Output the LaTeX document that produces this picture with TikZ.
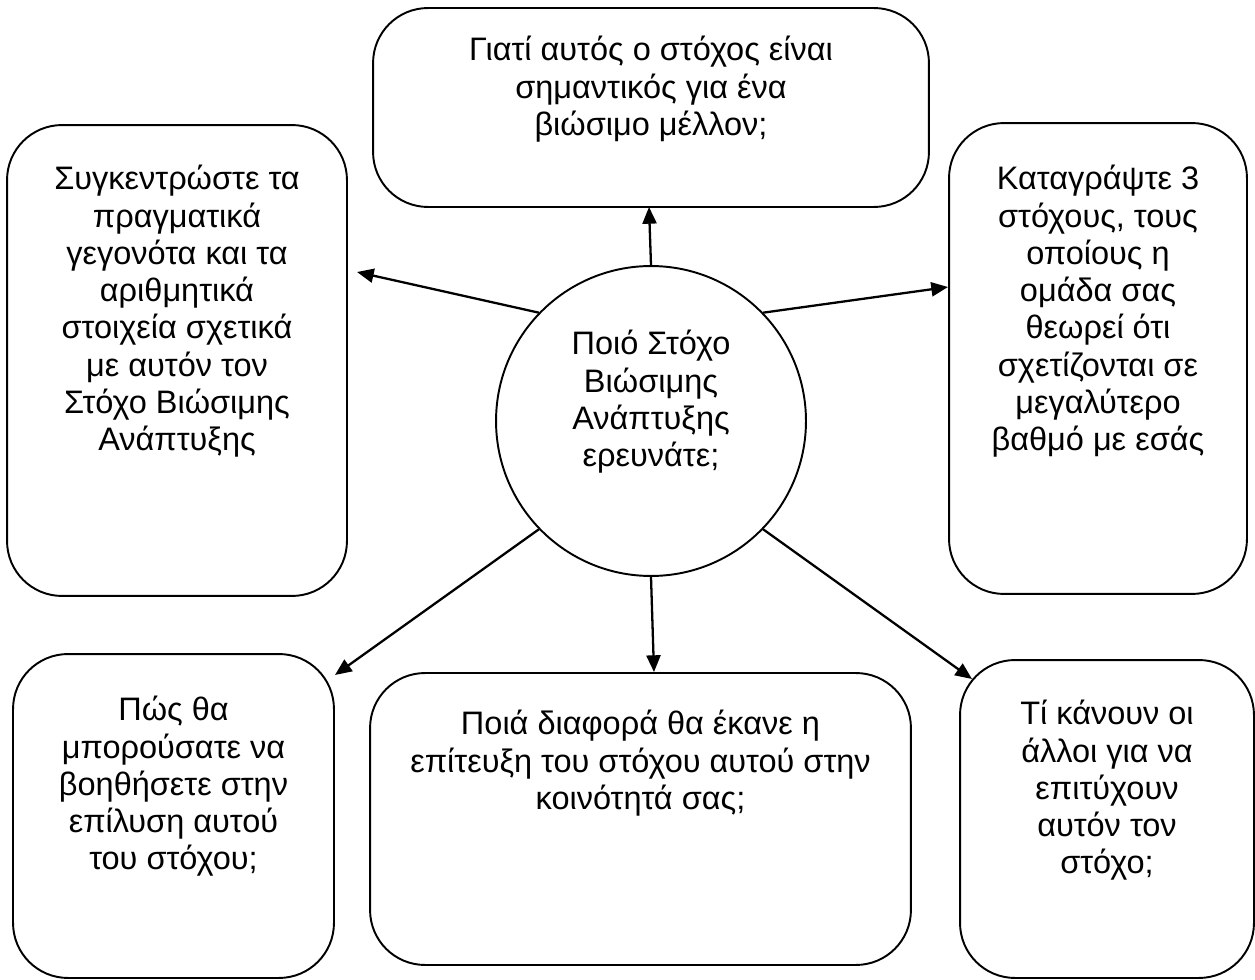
\documentclass[tikz,border=0pt]{standalone}
\usepackage{fontspec}
\setmainfont{Liberation Sans}
\usetikzlibrary{arrows.meta,positioning}

\begin{document}
\begin{tikzpicture}[x=0.02cm, y=-0.02cm,
		box/.style={draw, line width=1.1pt, rounded corners=1.1cm, inner sep=0pt, outer sep=0pt},
		txt/.style={align=center, inner sep=0pt, font=\fontsize{18.5}{21.2}\selectfont},
		arr/.style={line width=1.3pt, -{Triangle[length=9.5pt, width=8pt]}}]
		\useasboundingbox (0, 0) rectangle (1255, 980);
		
		\node[draw, circle, line width=1.1pt, minimum size=6.2cm, inner sep=0pt] (goal) at (651, 421) {};
		\node[txt, below=1.3cm of goal.north] (goaltxt) {Ποιό Στόχο\\Βιώσιμης\\Ανάπτυξης\\ερευνάτε;};
		
		\node[box, minimum width=11.12cm, minimum height=3.98cm] (why) at (651, 107.5) {};
		\node[box, minimum width=6.8cm, minimum height=9.42cm] (facts) at (177, 360.5) {};
		\node[box, minimum width=5.96cm, minimum height=9.42cm] (list) at (1098, 358.5) {};
		\node[box, minimum width=6.42cm, minimum height=6.48cm] (help) at (173.5, 816) {};
		\node[box, minimum width=10.82cm, minimum height=5.84cm] (diff) at (640.5, 819) {};
		\node[box, minimum width=5.88cm, minimum height=6.36cm] (others) at (1107, 819) {};
		
		\node[txt, below=0.56cm of why.north] (whytxt) {Γιατί αυτός ο στόχος είναι\\σημαντικός για ένα\\βιώσιμο μέλλον;};
		\node[txt, below=0.8cm of facts.north] (factstxt) {Συγκεντρώστε τα\\πραγματικά\\γεγονότα και τα\\αριθμητικά\\στοιχεία σχετικά\\με αυτόν τον\\Στόχο Βιώσιμης\\Ανάπτυξης};
		\node[txt, below=0.84cm of list.north] (listtxt) {Καταγράψτε 3\\στόχους, τους\\οποίους η\\ομάδα σας\\θεωρεί ότι\\σχετίζονται σε\\μεγαλύτερο\\βαθμό με εσάς};
		\node[txt, below=0.84cm of help.north] (helptxt) {Πώς θα\\μπορούσατε να\\βοηθήσετε στην\\επίλυση αυτού\\του στόχου;};
		\node[txt, below=0.74cm of diff.north] (difftxt) {Ποιά διαφορά θα έκανε η\\επίτευξη του στόχου αυτού στην\\κοινότητά σας;};
		\node[txt, below=0.8cm of others.north] (otherstxt) {Τί κάνουν οι\\άλλοι για να\\επιτύχουν\\αυτόν τον\\στόχο;};
		
		\coordinate (tipwhy) at (649, 207);
		\coordinate (tipfacts) at (357, 272);
		\coordinate (tiplist) at (948, 287);
		\coordinate (tiphelp) at (335, 675);
		\coordinate (tipdiff) at (654, 672);
		\coordinate (tipothers) at (972, 679);
		
		\draw[arr] (goal.90) -- (tipwhy);
		\draw[arr] (goal.136) -- (tipfacts);
		\draw[arr] (goal.44) -- (tiplist);
		\draw[arr] (goal.224) -- (tiphelp);
		\draw[arr] (goal.270) -- (tipdiff);
		\draw[arr] (goal.316) -- (tipothers);
	\end{tikzpicture}
\end{document}
